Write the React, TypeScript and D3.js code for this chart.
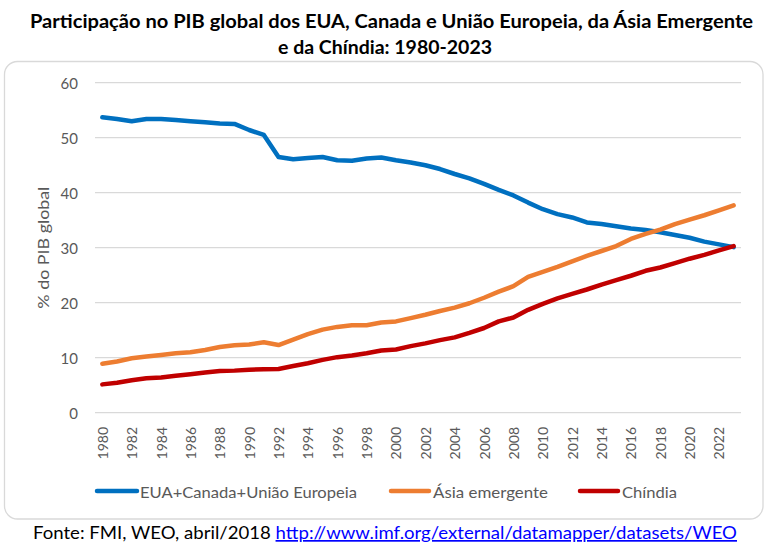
import React from 'react';
import * as d3 from 'd3';

const years = [
  '1980','1981','1982','1983','1984','1985','1986','1987','1988','1989',
  '1990','1991','1992','1993','1994','1995','1996','1997','1998','1999',
  '2000','2001','2002','2003','2004','2005','2006','2007','2008','2009',
  '2010','2011','2012','2013','2014','2015','2016','2017','2018','2019',
  '2020','2021','2022','2023',
];

const usCanEu = [
  53.7, 53.4, 53.0, 53.4, 53.4, 53.2, 53.0, 52.8, 52.6, 52.5,
  51.4, 50.5, 46.5, 46.1, 46.3, 46.5, 45.9, 45.8, 46.2, 46.4,
  45.9, 45.5, 45.0, 44.3, 43.4, 42.6, 41.6, 40.5, 39.5, 38.2,
  37.0, 36.1, 35.5, 34.6, 34.3, 33.9, 33.5, 33.2, 32.8, 32.3,
  31.8, 31.1, 30.6, 30.1,
];

const emergingAsia = [
  8.9, 9.3, 9.9, 10.2, 10.5, 10.8, 11.0, 11.4, 11.95, 12.25,
  12.4, 12.8, 12.3, 13.3, 14.3, 15.1, 15.6, 15.9, 15.9, 16.4,
  16.6, 17.2, 17.8, 18.5, 19.1, 19.9, 20.9, 22.0, 23.0, 24.7,
  25.6, 26.5, 27.5, 28.5, 29.4, 30.3, 31.6, 32.5, 33.3, 34.3,
  35.1, 35.9, 36.8, 37.7,
];

const chindia = [
  5.15, 5.45, 5.9, 6.25, 6.4, 6.7, 7.0, 7.3, 7.6, 7.65,
  7.8, 7.9, 7.95, 8.5, 9.0, 9.6, 10.1, 10.4, 10.8, 11.3,
  11.5, 12.1, 12.6, 13.2, 13.7, 14.5, 15.4, 16.6, 17.3, 18.7,
  19.8, 20.8, 21.6, 22.4, 23.3, 24.1, 24.9, 25.8, 26.4, 27.2,
  28.0, 28.7, 29.5, 30.3,
];

const yTicks = [0, 10, 20, 30, 40, 50, 60];
const xTickYears = years.filter((_, i) => i % 2 === 0);

const seriesNames = ['EUA+Canada+União Europeia', 'Ásia emergente', 'Chíndia'];
const seriesColors = ['#0070C0', '#ED7D31', '#C00000'];
const seriesData = [usCanEu, emergingAsia, chindia];

const titleLines = [
  'Participação no PIB global dos EUA, Canada e União Europeia, da Ásia Emergente',
  'e da Chíndia: 1980-2023',
];
const yAxisTitle = '% do PIB global';
const sourceText = 'Fonte: FMI, WEO, abril/2018 ';
const sourceLink = 'http://www.imf.org/external/datamapper/datasets/WEO';

const FONT = "Lato, 'Open Sans', sans-serif";

export default function App() {
  const W = 769;
  const H = 551;
  const x = d3.scaleBand<string>().domain(years).range([95, 741]);
  const y = d3.scaleLinear().domain([0, 60]).range([412.7, 82.7]);
  const cx = (yr: string) => (x(yr) as number) + x.bandwidth() / 2;

  const line = d3
    .line<number>()
    .x((_, i) => cx(years[i]))
    .y((d) => y(d));

  const legendItems = [
    { x1: 97, x2: 137, tx: 140, tl: 217 },
    { x1: 391, x2: 429, tx: 433, tl: 115 },
    { x1: 580, x2: 618, tx: 622, tl: 55 },
  ];

  return (
    <svg
      width={W}
      height={H}
      style={{ position: 'absolute', left: 0, top: 0, background: '#fff' }}
      fontFamily={FONT}
    >
      <rect x={0} y={0} width={W} height={H} fill="#fff" />
      {/* Title */}
      <text x={30} y={28} textAnchor="start" fontSize={18} fontWeight="bold" fill="#000"
        textLength={723} lengthAdjust="spacingAndGlyphs">
        {titleLines[0]}
      </text>
      <text x={385} y={54} textAnchor="middle" fontSize={18} fontWeight="bold" fill="#000"
        textLength={214} lengthAdjust="spacingAndGlyphs">
        {titleLines[1]}
      </text>

      {/* Chart frame */}
      <rect x={4.5} y={61.5} width={758.5} height={457.5} rx={13} ry={13} fill="#fff" stroke="#D9D9D9" strokeWidth={1.3} />

      {/* Gridlines */}
      {yTicks.map((t) => (
        <line key={'g' + t} x1={95} x2={741} y1={y(t)} y2={y(t)} stroke="#D9D9D9" strokeWidth={1.3} />
      ))}

      {/* Y tick labels */}
      {yTicks.map((t) => (
        <text key={'yl' + t} x={78} y={y(t)} textAnchor="end" dominantBaseline="central" fontSize={15} fill="#595959">
          {t}
        </text>
      ))}

      {/* Y axis title */}
      <text transform={`translate(42, ${y(30)}) rotate(-90)`} textAnchor="middle" dominantBaseline="central"
        fontSize={16} fill="#595959" textLength={122} lengthAdjust="spacingAndGlyphs">
        {yAxisTitle}
      </text>

      {/* X tick labels */}
      {xTickYears.map((yr) => (
        <text key={'xl' + yr} transform={`translate(${cx(yr)}, 427) rotate(-90)`} textAnchor="end"
          dominantBaseline="central" fontSize={14} fill="#595959">
          {yr}
        </text>
      ))}

      {/* Series lines */}
      {seriesData.map((d, i) => (
        <path key={'s' + i} d={line(d) as string} fill="none" stroke={seriesColors[i]} strokeWidth={4.5}
          strokeLinejoin="round" strokeLinecap="round" />
      ))}

      {/* Legend */}
      {legendItems.map((it, i) => (
        <g key={'lg' + i}>
          <line x1={it.x1} x2={it.x2} y1={491} y2={491} stroke={seriesColors[i]} strokeWidth={4.5} strokeLinecap="round" />
          <text x={it.tx} y={491} dominantBaseline="central" fontSize={16} fill="#595959"
            textLength={it.tl} lengthAdjust="spacingAndGlyphs">
            {seriesNames[i]}
          </text>
        </g>
      ))}

      {/* Source */}
      <text x={33} y={539} fontSize={17} fill="#000" textLength={704} lengthAdjust="spacingAndGlyphs">
        {sourceText}
        <tspan fill="#0000FF" textDecoration="underline" style={{ textDecoration: 'underline' }}>{sourceLink}</tspan>
      </text>
    </svg>
  );
}
